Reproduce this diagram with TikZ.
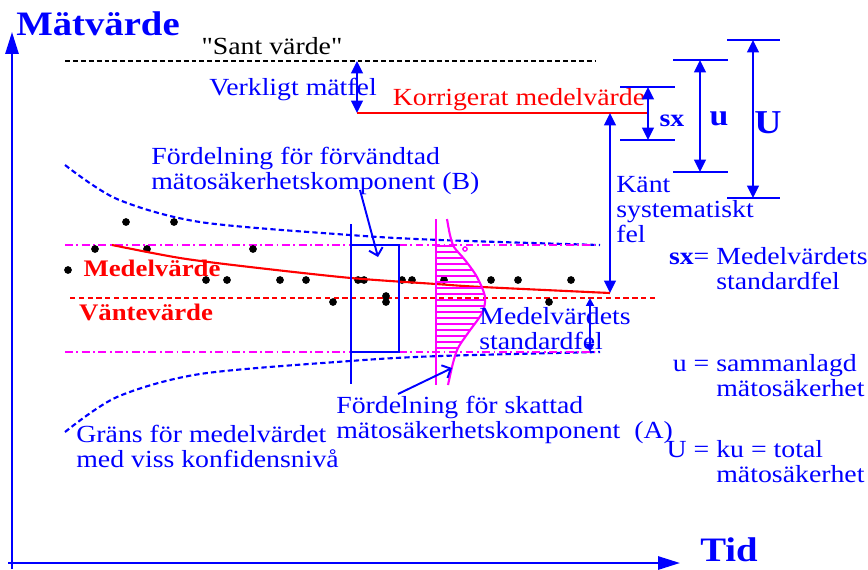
\documentclass[tikz,border=0pt]{standalone}
\usepackage{fontspec}
\setmainfont{Liberation Serif}[FakeStretch=1.13]
\newfontfamily\quotefont{Liberation Serif}[FakeStretch=1.13]
\usetikzlibrary{arrows.meta,positioning,calc}
\definecolor{plotblue}{RGB}{0,0,255}
\definecolor{plotred}{RGB}{255,0,0}
\definecolor{plotpink}{RGB}{255,0,255}
\tikzset{
  bluelabel/.style={text=plotblue, inner sep=0pt, align=left,
    font=\fontsize{14}{14.2}\selectfont},
  redlabel/.style={text=plotred, inner sep=0pt, font=\bfseries\fontsize{13.5}{14.2}\selectfont},
  biglabel/.style={text=plotblue, inner sep=0pt, font=\bfseries\fontsize{19.5}{22}\selectfont},
  axisarrow/.style={-{Triangle[length=12.5pt,width=7.5pt]}, plotblue, line width=1.3pt},
  dimarrow/.style={{Triangle[length=7pt,width=6.5pt]}-{Triangle[length=7pt,width=6.5pt]},
    plotblue, line width=1.4pt},
  smallarrow/.style={{Triangle[length=4.5pt,width=4.5pt]}-{Triangle[length=4.5pt,width=4.5pt]},
    plotblue, line width=1.1pt},
  dimtick/.style={plotblue, line width=1.4pt},
  pointer/.style={-{Straight Barb[length=4pt,width=8pt]}, plotblue, line width=1.1pt},
  limitline/.style={plotblue, line width=1.2pt, dash pattern=on 3pt off 1.8pt},
  spreadline/.style={plotpink, line width=1.1pt, dash pattern=on 4.5pt off 2pt on 1pt off 2pt}
}

\begin{document}
\begin{tikzpicture}[x=0.02cm, y=-0.02cm]
  \useasboundingbox (0,0) rectangle (868,569);

  % axes
  \coordinate (origin) at (12,563);
  \coordinate (ytop) at (12,32);
  \coordinate (xend) at (680,563);
  \draw[axisarrow] (12,569) -- (ytop);
  \draw[axisarrow] (8,563) -- (xend);
  \node[biglabel] (ylabel) at (98,24) {Mätvärde};
  \node[biglabel] (xlabel) at (729,550) {Tid};

  % true value and corrected mean
  \draw[black, line width=1.1pt, dash pattern=on 2.8pt off 1.7pt] (65,61) -- (595,61);
  \node[inner sep=0pt, font=\quotefont\fontsize{14}{14.2}\selectfont] (truelabel) at (272,46) {"Sant värde"};
  \coordinate (truept) at (357,61);
  \coordinate (corrpt) at (357,113);
  \draw[dimarrow] (truept) -- (corrpt);
  \node[bluelabel] (errlabel) at (293,89) {Verkligt mätfel};
  \coordinate (corrend) at (647,113);
  \draw[plotred, line width=1.3pt] (corrpt) -- (corrend);
  \node[bluelabel, text=plotred] (corrlabel) at (519,100) {Korrigerat medelvärde};

  % sx, u, U
  \draw[dimtick] (620,87) -- (675,87) (620,140) -- (675,140);
  \coordinate (sxtop) at (648,87);
  \coordinate (sxbot) at (648,140);
  \draw[dimarrow] (sxtop) -- (sxbot);
  \node[biglabel, font=\bfseries\fontsize{14}{16}\selectfont] (sxlabel) at (672,121) {sx};
  \draw[dimtick] (673,60) -- (728,60) (673,172) -- (728,172);
  \coordinate (utop) at (700,60);
  \coordinate (ubot) at (700,172);
  \draw[dimarrow] (utop) -- (ubot);
  \node[biglabel, font=\bfseries\fontsize{17}{19}\selectfont] (ulabel) at (719,119) {u};
  \draw[dimtick] (727,40) -- (780,40) (727,198) -- (780,198);
  \coordinate (Utop) at (753,40);
  \coordinate (Ubot) at (753,198);
  \draw[dimarrow] (Utop) -- (Ubot);
  \node[biglabel, font=\bfseries\fontsize{19}{21}\selectfont] (Ulabel) at (768,123) {U};

  % known systematic error
  \coordinate (sysbot) at (610,293);
  \draw[dimarrow] (610,113) -- (sysbot);
  \node[bluelabel, anchor=west] (syslabel) at (616,210) {Känt\\systematiskt\\fel};

  % confidence limits
  \draw[limitline] plot[smooth] coordinates {(65,165) (117,199) (200,222) (350,235) (440,240) (600,245)};
  \draw[limitline] plot[smooth] coordinates {(65,432) (117,397) (200,374) (350,361) (440,356) (600,352)};
  \node[bluelabel, anchor=west] (limlabel) at (76,446) {Gräns för medelvärdet\\med viss konfidensnivå};

  % spread lines, expected value
  \draw[spreadline] (65,245) -- (595,245);
  \draw[spreadline] (65,352) -- (595,352);
  \draw[plotred, line width=1.1pt, dash pattern=on 3pt off 2pt] (70,298) -- (655,298);
  \node[redlabel] (meanlabel) at (152,268) {Medelvärde};
  \node[redlabel] (explabel) at (146,312) {Väntevärde};

  % measured values
  \foreach \px/\py in {126/222, 174/222, 95/249, 147/249, 253/249, 68/270,
      206/280, 227/280, 280/280, 306/280, 333/302, 358/280, 364/280, 386/296,
      386/302, 402/280, 412/280, 444/280, 491/280, 518/280, 571/280, 549/302}
    \fill[black] (\px,\py) circle (2.2pt);

  % running mean
  \draw[plotred, line width=1.2pt] plot[smooth] coordinates {(112,245) (180,258) (250,267) (351,278) (436,284) (482,287) (610,293)};

  % type B distribution
  \draw[plotblue, line width=1.3pt] (351,224) -- (351,384);
  \draw[plotblue, line width=1.3pt] (351,245) rectangle (399,352);
  \node[bluelabel, anchor=west] (distB) at (151,171) {Fördelning för förvändtad\\mätosäkerhetskomponent (B)};
  \coordinate (distBtip) at (378,257);
  \draw[pointer] (360,190) -- (distBtip);

  % type A distribution
  \begin{scope}
    \clip (436,219) -- plot[smooth] coordinates {(447,219) (450,235) (454,247) (465,260) (477,277) (485,297)
      (482,313) (468,333) (458,348) (453,363) (448,385)} -- (436,385) -- cycle;
    \foreach \hy in {246,252,...,352}
      \draw[plotpink, line width=1pt] (436,\hy) -- (490,\hy);
  \end{scope}
  \draw[plotpink, line width=1.2pt] plot[smooth] coordinates {(447,219) (450,235) (454,247) (465,260) (477,277) (485,297)
      (482,313) (468,333) (458,348) (453,363) (448,385)};
  \draw[plotpink, line width=1.2pt] (436,219) -- (436,385);
  \draw[plotpink, line width=0.8pt] (465,249) circle (1.2pt);
  \node[bluelabel, anchor=west] (distA) at (336,420) {Fördelning för skattad\\mätosäkerhetskomponent~~(A)};
  \coordinate (distAtip) at (452,368);
  \draw[pointer] (398,394) -- (distAtip);

  % standard error of the mean
  \node[bluelabel, anchor=west] (selabel) at (479,329) {Medelvärdets\\standardfel};
  \coordinate (setop) at (590,298);
  \coordinate (sebot) at (590,352);
  \draw[smallarrow] (setop) -- (sebot);

  % legend
  \node[bluelabel, anchor=west] (legsx) at (716,269) {\llap{\textbf{sx}= }Medelvärdets\\standardfel};
  \node[bluelabel, anchor=west] (legu) at (716,376) {\llap{u = }sammanlagd\\mätosäkerhet};
  \node[bluelabel, anchor=west] (legU) at (716,462) {\llap{U = }ku = total\\mätosäkerhet};
\end{tikzpicture}
\end{document}
